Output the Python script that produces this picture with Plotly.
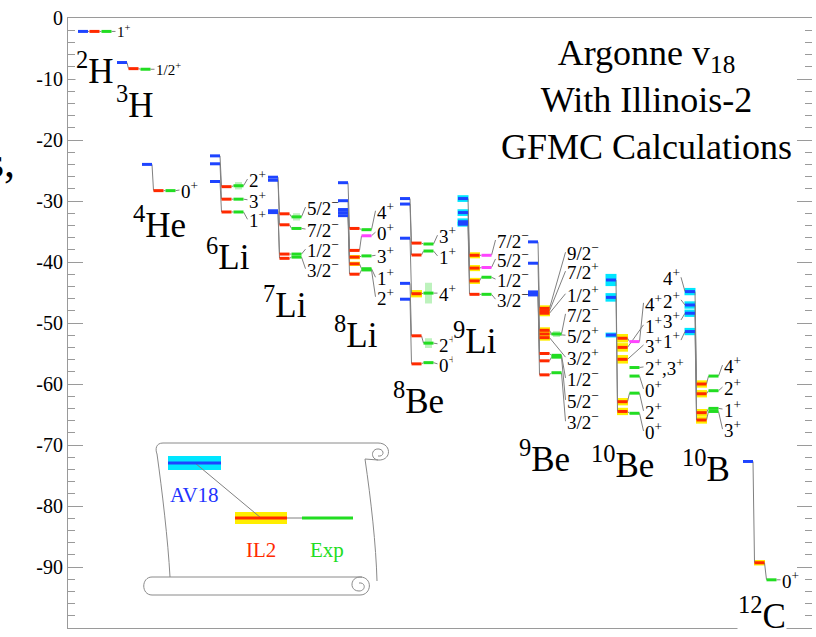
import plotly.graph_objects as go

SERIF = "Liberation Serif"

# ---------------------------------------------------------------- data
nuclei = ["2H", "3H", "4He", "6Li", "7Li", "8Li", "8Be", "9Li", "9Be", "10Be", "10B", "12C"]
mass_number = ["2", "3", "4", "6", "7", "8", "8", "9", "9", "10", "10", "12"]
element = ["H", "H", "He", "Li", "Li", "Li", "Be", "Li", "Be", "Be", "B", "C"]

# one entry per level: nucleus, J^pi, energies (MeV) for AV18, AV18+IL2 and experiment
state_nucleus = ["2H", "3H", "4He",
                 "6Li", "6Li", "6Li",
                 "7Li", "7Li", "7Li", "7Li",
                 "8Li", "8Li", "8Li", "8Li", "8Li",
                 "8Be", "8Be", "8Be", "8Be", "8Be",
                 "9Li", "9Li", "9Li", "9Li",
                 "9Be", "9Be", "9Be", "9Be", "9Be", "9Be", "9Be", "9Be", "9Be",
                 "10Be", "10Be", "10Be", "10Be", "10Be", "10Be", "10Be",
                 "10B", "10B", "10B", "10B",
                 "12C"]
state_jpi = ["1+", "1/2+", "0+",
             "2+", "3+", "1+",
             "5/2-", "7/2-", "1/2-", "3/2-",
             "4+", "0+", "3+", "1+", "2+",
             "3+", "1+", "4+", "2+", "0+",
             "7/2-", "5/2-", "1/2-", "3/2-",
             "9/2-", "7/2+", "1/2+", "7/2-", "5/2+", "3/2+", "1/2-", "5/2-", "3/2-",
             "4+", "1+", "3+", "2+,3+", "0+", "2+", "0+",
             "4+", "2+", "3+", "1+",
             "0+"]
e_av18 = [-2.2, -7.3, -24.0,
          -22.6, -23.9, -26.8,
          -26.1, -26.6, -31.6, -31.9,
          -27.0, -29.95, -31.4, -31.9, -32.4,
          -29.6, -30.5, -36.1, -43.5, -46.1,
          -29.6, -31.9, -33.4, -33.8,
          -36.7, None, None, -40.2, None, None, -44.9, -45.1, -45.4,
          -51.97, None, None, None, None, -42.95, -45.8,
          -44.85, -47.05, -48.4, -51.4,
          -72.7]
e_il2 = [-2.2, -8.3, -28.3,
         -27.65, -29.7, -31.8,
         -32.1, -33.9, -38.7, -39.4,
         -34.5, -38.1, -39.2, -40.3, -42.0,
         -36.9, -38.85, -45.2, -52.1, -56.7,
         -38.9, -41.0, -43.1, -45.3,
         -47.6, -48.0, -48.4, -51.2, -51.8, -52.4, -55.0, -56.2, -58.5,
         -52.5, -54.0, -55.95, None, None, -62.9, -64.5,
         -60.0, -61.6, -65.9, -64.7,
         -89.3]
e_exp = [-2.2, -8.4, -28.3,
         -27.5, -29.7, -31.8,
         -32.6, -34.5, -38.7, -39.2,
         -34.7, -35.7, -39.0, -41.1, -41.3,
         -37.05, -38.2, -45.1, -53.3, -56.5,
         -38.9, -40.9, -42.5, -45.3,
         None, None, None, -51.8, None, None, -55.3, -55.6, -58.15,
         -53.05, None, None, -57.3, -58.7, -61.5, -64.8,
         -58.7, -61.1, -64.5, -64.0,
         -92.1]
# Monte Carlo statistical errors (MeV) and experimental half-widths (MeV)
err_av18 = [0, 0, 0,
            0, 0, 0,
            0, 0, 0, 0,
            0, 0, 0, 0, 0,
            0, 0, 0, 0, 0,
            0.55, 0.55, 0.55, 0.4,
            0, 0, 0, 0, 0, 0, 0, 0, 0,
            0.4, 0, 0, 0, 0, 1.0, 0.7,
            0.6, 0.6, 0.6, 0.6,
            0]
err_il2 = [0, 0, 0,
           0, 0, 0,
           0, 0, 0, 0,
           0, 0, 0.35, 0.35, 0,
           0, 0, 0.6, 0, 0,
           0.5, 0.5, 0.5, 0,
           0.5, 0.5, 0.5, 0.5, 0.5, 0.5, 0, 0, 0,
           0.7, 0.7, 0.7, 0, 0, 0.6, 0.6,
           0.6, 0.6, 0.6, 0.6,
           0.45]
width_exp = [0, 0, 0,
             0.6, 0, 0,
             0.6, 0, 0, 0,
             0, 0, 0, 0, 0,
             0, 0, 1.7, 0.8, 0,
             0, 0, 0, 0,
             0, 0, 0, 0.5, 0, 0, 0, 0, 0,
             0, 0, 0, 0, 0, 0, 0,
             0, 0, 0, 0,
             0]
# tentative experimental assignments
exp_tentative = [False] * len(state_jpi)
for i in (11, 20, 21, 33):
    exp_tentative[i] = True

# ---------------------------------------------------------------- layout
# x axis runs in screen pixels; left edge of the AV18 column of each nucleus
column_x = [78, 117, 142, 210, 268, 338, 400, 458, 528, 606, 685, 743]
RED_OFF, GREEN_OFF, LEVEL_W = 11.5, 23.5, 10.0

# where each J^pi label sits (MeV), spread out so the text does not collide
label_e = [-2.2, -8.4, -28.2,
           -26.4, -29.8, -33.0,
           -31.0, -34.6, -37.9, -41.1,
           -31.6, -35.1, -38.9, -42.5, -45.7,
           -35.6, -39.0, -45.1, -53.4, -56.7,
           -36.4, -39.5, -42.8, -46.1,
           -38.4, -41.5, -45.2, -48.5, -52.0, -55.6, -59.0, -62.6, -66.1,
           -46.7, -50.3, -53.6, -57.2, -60.8, -64.4, -67.7,
           -56.9, -60.5, -67.4, -64.1,
           -92.1]
# AV18-side labels (10B only)
left_label_e = [None] * len(state_jpi)
for i, v in zip((40, 41, 42, 43), (-42.5, -46.2, -49.5, -52.8)):
    left_label_e[i] = v

# nucleus names: left edge (px) and vertical centre (px)
name_px = [75, 115, 132, 205, 262, 333, 392, 452, 518, 590, 681, 737]
name_py = [68, 102, 222, 254, 302, 332, 398, 338, 456, 462, 466, 613]

PX_PER_MEV = 6.1


def ey(py):
    """screen row -> energy on the y axis"""
    return -(py - 18) / PX_PER_MEV


def jpi_html(s):
    return s.replace("+", "<sup>+</sup>").replace("-", "<sup>−</sup>")


BLUE, RED, GREEN, MAGENTA = "#1e44ff", "#ff2a00", "#22dd22", "#ff44ff"
CYAN, YELLOW, LIGHTGREEN = "#00e6ff", "#ffee00", "#bdf2bd"
GRAY = "#808080"

col_of = {n: x for n, x in zip(nuclei, column_x)}

seg = {"blue": ([], []), "red": ([], []), "green": ([], []), "magenta": ([], []), "gray": ([], [])}


def add(key, x0, y0, x1, y1):
    xs, ys = seg[key]
    xs += [x0, x1, None]
    ys += [y0, y1, None]


shapes = []
annotations = []

for i, nuc in enumerate(state_nucleus):
    xb = col_of[nuc]
    xr = xb + RED_OFF
    xg = xb + GREEN_OFF
    av, il, ex = e_av18[i], e_il2[i], e_exp[i]

    # error bands
    if av is not None and err_av18[i] > 0:
        shapes.append(dict(type="rect", layer="below", x0=xb - 0.5, x1=xb + LEVEL_W + 0.5,
                           y0=av - err_av18[i], y1=av + err_av18[i],
                           fillcolor=CYAN, line=dict(width=0)))
    if il is not None and err_il2[i] > 0:
        shapes.append(dict(type="rect", layer="below", x0=xr - 0.5, x1=xr + LEVEL_W + 0.5,
                           y0=il - err_il2[i], y1=il + err_il2[i],
                           fillcolor=YELLOW, line=dict(width=0)))
    if ex is not None and width_exp[i] > 0:
        xc = xg + LEVEL_W / 2
        shapes.append(dict(type="rect", layer="below", x0=xc - 3.5, x1=xc + 3.5,
                           y0=ex - width_exp[i], y1=ex + width_exp[i],
                           fillcolor=LIGHTGREEN, line=dict(width=0)))

    # levels
    if av is not None:
        add("blue", xb, av, xb + LEVEL_W, av)
    if il is not None:
        add("red", xr, il, xr + LEVEL_W, il)
    if ex is not None:
        add("magenta" if exp_tentative[i] else "green", xg, ex, xg + LEVEL_W, ex)

    # connectors
    if av is not None and il is not None:
        add("gray", xb + LEVEL_W, av, xr, il)
    if il is not None and ex is not None:
        add("gray", xr + LEVEL_W, il, xg, ex)
    end_x, end_e = (xg + LEVEL_W, ex) if ex is not None else (xr + LEVEL_W, il)
    lab_x = xb + GREEN_OFF + LEVEL_W + 4
    add("gray", end_x, end_e, lab_x, label_e[i])

    small = nuc in ("2H", "3H")
    annotations.append(dict(x=lab_x, y=label_e[i], xref="x", yref="y", text=jpi_html(state_jpi[i]),
                            showarrow=False, xanchor="left", yanchor="middle", borderpad=0,
                            font=dict(family=SERIF, size=15 if small else 19, color="black")))
    if left_label_e[i] is not None and av is not None:
        lx = xb - 4
        add("gray", lx, left_label_e[i], xb, av)
        annotations.append(dict(x=lx, y=left_label_e[i], xref="x", yref="y",
                                text=jpi_html(state_jpi[i]), showarrow=False,
                                xanchor="right", yanchor="middle", borderpad=0,
                                font=dict(family=SERIF, size=19, color="black")))

# nucleus names, white backed so they sit on top of connectors
for m, el, px, py in zip(mass_number, element, name_px, name_py):
    annotations.append(dict(x=px, y=ey(py), xref="x", yref="y", text=f"<sup>{m}</sup>{el}",
                            showarrow=False, xanchor="left", yanchor="middle",
                            bgcolor="white", borderpad=0,
                            font=dict(family=SERIF, size=35, color="black")))

# title block
annotations.append(dict(x=646, y=ey(100), xref="x", yref="y",
                        text="Argonne v<sub>18</sub><br>With Illinois-2<br>GFMC Calculations",
                        showarrow=False, xanchor="center", yanchor="middle", align="center",
                        font=dict(family=SERIF, size=36, color="black")))

# text running in from the left of the page
annotations.append(dict(x=(17 - 68) / 744, y=ey(162), xref="paper", yref="y", text="s,",
                        showarrow=False, xanchor="right", yanchor="middle",
                        font=dict(family=SERIF, size=44, color="black")))

# ---------------------------------------------------------------- key (scroll)


def P(px, py):
    return f"{px},{ey(py):.3f}"


scroll_paths = [
    f"M {P(378,443)} L {P(163,443)} C {P(156,443)} {P(155,449)} {P(157,454)} "
    f"C {P(162,490)} {P(168,540)} {P(170,577)}",
    f"M {P(365,459)} C {P(371,500)} {P(376,545)} {P(377,581)}",
    f"M {P(378,443)} C {P(392,443)} {P(392,461)} {P(378,460)} L {P(365,459)} "
    f"M {P(378,460)} C {P(370,459)} {P(371,448)} {P(379,449)} C {P(385,450)} {P(384,457)} {P(378,456)}",
    f"M {P(362,577)} L {P(152,577)} C {P(141,577)} {P(141,595)} {P(152,595)} L {P(360,595)} "
    f"C {P(372,595)} {P(373,577)} {P(360,577)} C {P(350,577)} {P(349,591)} {P(359,591)} "
    f"C {P(366,591)} {P(366,582)} {P(359,583)}",
]
for p in scroll_paths:
    shapes.append(dict(type="path", path=p, xref="x", yref="y", line=dict(color="#8a8a8a", width=1)))

key_av, key_il = ey(463), ey(518)
shapes += [
    dict(type="rect", x0=168, x1=221, y0=ey(456), y1=ey(470), fillcolor=CYAN, line=dict(width=0)),
    dict(type="rect", x0=235, x1=287, y0=ey(512), y1=ey(524), fillcolor=YELLOW, line=dict(width=0)),
    dict(type="line", x0=195, x1=261, y0=key_av, y1=key_il, line=dict(color=GRAY, width=1)),
    dict(type="line", x0=287, x1=302, y0=key_il, y1=key_il, line=dict(color=GRAY, width=1)),
    dict(type="line", x0=168, x1=221, y0=key_av, y1=key_av, line=dict(color=BLUE, width=3)),
    dict(type="line", x0=235, x1=287, y0=key_il, y1=key_il, line=dict(color=RED, width=3)),
    dict(type="line", x0=302, x1=353, y0=key_il, y1=key_il, line=dict(color=GREEN, width=3)),
]
for txt, cx, cy, c in (("AV18", 194, 495, "#2233ff"), ("IL2", 261, 550, RED), ("Exp", 327, 550, GREEN)):
    annotations.append(dict(x=cx, y=ey(cy), xref="x", yref="y", text=txt, showarrow=False,
                            xanchor="center", yanchor="middle",
                            font=dict(family=SERIF, size=21, color=c)))

# ---------------------------------------------------------------- figure
fig = go.Figure()
fig.add_trace(go.Scatter(x=seg["gray"][0], y=seg["gray"][1], mode="lines",
                         line=dict(color=GRAY, width=1), hoverinfo="skip"))
for key, col in (("blue", BLUE), ("red", RED), ("green", GREEN), ("magenta", MAGENTA)):
    fig.add_trace(go.Scatter(x=seg[key][0], y=seg[key][1], mode="lines",
                             line=dict(color=col, width=3), hoverinfo="skip"))
# carrier for the right-hand tick axis
fig.add_trace(go.Scatter(x=[None], y=[None], yaxis="y2", mode="lines", hoverinfo="skip"))

major = list(range(0, -101, -10))
minor_vals = list(range(0, -101, -2))
AXC = "#9a9a9a"
ytick_common = dict(range=[-100, 0], tickmode="array", tickvals=major, ticks="inside", ticklen=15,
                    tickwidth=1, tickcolor=AXC, showgrid=False, zeroline=False,
                    minor=dict(tickmode="array", tickvals=minor_vals, ticks="inside", ticklen=7,
                               tickwidth=1, tickcolor=AXC, showgrid=False))

fig.update_layout(
    width=816, height=637,
    margin=dict(l=68, r=4, t=18, b=9),
    paper_bgcolor="white", plot_bgcolor="white",
    showlegend=False,
    font=dict(family=SERIF),
    xaxis=dict(range=[68, 812], showticklabels=False, ticks="", showgrid=False, zeroline=False,
               showline=True, mirror=True, linecolor=AXC, linewidth=1),
    yaxis=dict(**ytick_common, ticktext=[str(v) for v in major], showline=True, linecolor=AXC,
               linewidth=1, tickfont=dict(family=SERIF, size=20, color="black")),
    yaxis2=dict(**ytick_common, overlaying="y", side="right", matches="y", showline=False,
                showticklabels=False),
    shapes=shapes,
    annotations=annotations,
)

fig.write_html("out.html")
